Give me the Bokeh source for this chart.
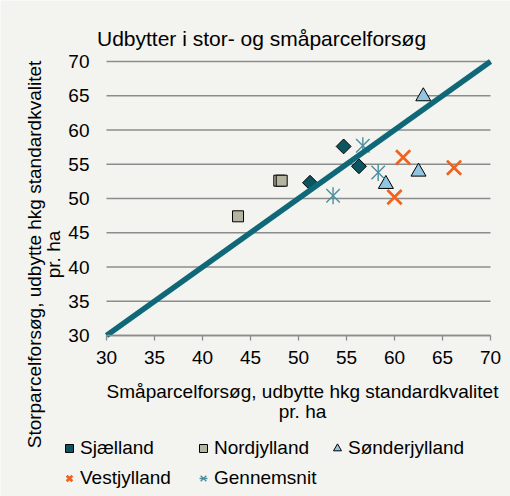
import math
from bokeh.plotting import figure
from bokeh.models import Legend, LegendItem, Range1d, FixedTicker, Label
from bokeh.embed import file_html
from bokeh.resources import INLINE

# ---- Data ----
title_text = "Udbytter i stor- og småparcelforsøg"
x_label_lines = ["Småparcelforsøg, udbytte hkg standardkvalitet", "pr. ha"]
y_label_lines = ["Storparcelforsøg, udbytte hkg standardkvalitet", "pr. ha"]
ticks = [30, 35, 40, 45, 50, 55, 60, 65, 70]

sjaelland_x = [54.7, 56.3, 51.2]
sjaelland_y = [57.6, 54.7, 52.3]
nord_x = [48.0, 48.25, 43.7]
nord_y = [52.6, 52.6, 47.4]
sonder_x = [63.0, 62.5, 59.1]
sonder_y = [64.9, 53.9, 52.1]
vest_x = [60.9, 66.2, 60.0]
vest_y = [56.0, 54.5, 50.2]
gen_x = [56.7, 58.3, 53.6]
gen_y = [57.7, 53.8, 50.4]
line_x = [30, 70]
line_y = [30, 70]

# ---- Layout (pixels) ----
W, H = 510, 496
PL, PR, PT, PB = 106, 490, 61, 335   # plot area edges on the canvas
FONT = "Liberation Sans"
BG = "#f3f3ef"
GRID = "#8c8c8c"

lo, hi = ticks[0], ticks[-1]
xs = (hi - lo) / (PR - PL)
ys = (hi - lo) / (PB - PT)
x_range = Range1d(lo - PL * xs, hi + (W - PR) * xs)
y_range = Range1d(lo - (H - PB) * ys, hi + PT * ys)

p = figure(width=W, height=H, output_backend="svg", toolbar_location=None,
           x_range=x_range, y_range=y_range,
           min_border_left=0, min_border_right=0, min_border_top=0, min_border_bottom=0)
p.title.text = ""
p.title.visible = False
p.background_fill_color = BG
p.border_fill_color = BG
p.outline_line_color = None
p.xgrid.visible = False
p.ygrid.visible = False

# horizontal gridlines over the plot area only
p.segment(x0=[lo] * len(ticks), x1=[hi] * len(ticks), y0=ticks, y1=ticks,
          line_color=GRID, line_width=1.3)

for ax in (p.xaxis[0], p.yaxis[0]):
    ax.ticker = FixedTicker(ticks=ticks)
    ax.fixed_location = lo
    ax.bounds = (lo, hi)
    ax.major_label_text_font = FONT
    ax.major_label_text_font_size = "19px"
    ax.major_label_text_color = "#000000"
    ax.minor_tick_line_color = None

p.xaxis.axis_line_color = GRID
p.xaxis.axis_line_width = 1.3
p.xaxis.major_tick_line_color = GRID
p.xaxis.major_tick_line_width = 1.3
p.xaxis.major_tick_out = 5
p.xaxis.major_tick_in = 0
p.xaxis.major_label_standoff = 10

p.yaxis.axis_line_color = None
p.yaxis.major_tick_line_color = None
p.yaxis.major_tick_out = 0
p.yaxis.major_tick_in = 0
p.yaxis.major_label_standoff = 17

r1 = p.scatter(sjaelland_x, sjaelland_y, marker="square", size=10.5, angle=math.pi / 4,
               fill_color="#0b5560", line_color="#000000", line_width=1)
r2 = p.scatter(nord_x, nord_y, marker="square", size=11,
               fill_color="#b5b4a0", line_color="#000000", line_width=1)
r3 = p.scatter(sonder_x, sonder_y, marker="triangle", size=15,
               fill_color="#92c5df", line_color="#000000", line_width=1)
r4 = p.scatter(vest_x, vest_y, marker="x", size=20,
               line_color="#f0621e", line_width=2.7)
# Excel-style asterisk: an x with a vertical stroke
r5a = p.scatter(gen_x, gen_y, marker="x", size=19,
                line_color="#4a8fa0", line_width=1.4)
r5b = p.scatter(gen_x, gen_y, marker="dash", size=17, angle=math.pi / 2,
                line_color="#4a8fa0", line_width=1.4)
p.line(line_x, line_y, line_color="#0f6878", line_width=5.5)

def lab(text, x, y, size, align="left", angle=0.0):
    # screen units, measured from the canvas bottom-left
    p.add_layout(Label(text=text, x=x, y=H - y, x_units="screen", y_units="screen",
                       text_font=FONT, text_font_size=size, text_color="#000000",
                       text_align=align, text_baseline="alphabetic", angle=angle))

lab(title_text, 96.5, 38, "21px")
lab(x_label_lines[0], 302, 391, "19px", "center")
lab(x_label_lines[1], 302, 410.5, "19px", "center")
lab(y_label_lines[0], 34, 254, "19px", "center", math.pi / 2)
lab(y_label_lines[1], 53, 254, "19px", "center", math.pi / 2)

legend = Legend(items=[
    LegendItem(label="Sjælland", renderers=[r1]),
    LegendItem(label="Nordjylland", renderers=[r2]),
    LegendItem(label="Sønderjylland", renderers=[r3]),
    LegendItem(label="Vestjylland", renderers=[r4]),
    LegendItem(label="Gennemsnit", renderers=[r5a, r5b]),
], ncols=3, orientation="horizontal", location=(59, 3))
legend.background_fill_alpha = 0
legend.border_line_color = None
legend.label_text_font = FONT
legend.label_text_font_size = "19px"
legend.label_text_color = "#000000"
legend.glyph_width = 20
legend.glyph_height = 20
legend.label_standoff = 1
legend.spacing = 0
legend.label_width = 113
legend.label_height = 30
legend.padding = 0
legend.margin = 0
p.add_layout(legend, "center")

open("out.html", "w").write(file_html(p, INLINE))
